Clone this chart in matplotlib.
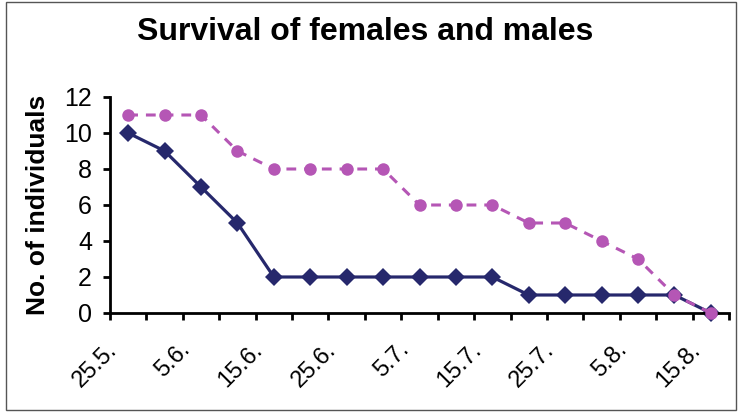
import matplotlib
matplotlib.use('Agg')
import matplotlib.pyplot as plt
import matplotlib.transforms as mtransforms
from matplotlib.patches import Rectangle

plt.rcParams['font.family'] = ['Liberation Sans', 'DejaVu Sans']

# survival counts, one value per census (every other census labelled)
females = [11, 11, 11, 9, 8, 8, 8, 8, 6, 6, 6, 5, 5, 4, 3, 1, 0]
males = [10, 9, 7, 5, 2, 2, 2, 2, 2, 2, 2, 1, 1, 1, 1, 1, 0]
date_labels = ['25.5.', '5.6.', '15.6.', '25.6.', '5.7.', '15.7.', '25.7.', '5.8.', '15.8.']
y_ticks = [0, 2, 4, 6, 8, 10, 12]

x = list(range(len(males)))

fig = plt.figure(figsize=(7.38, 4.12), dpi=100)
ax = fig.add_axes([110 / 738, 1 - 313 / 412, (729 - 110) / 738, (313 - 97) / 412])

ax.plot(x, females, color='#b556b5', linestyle=(0, (3.2, 2.6)), linewidth=2.2,
        marker='o', markersize=9, markeredgewidth=0, clip_on=False, zorder=3)
ax.plot(x, males, color='#26286c', linestyle='-', linewidth=2.3,
        marker='D', markersize=9.5, markeredgewidth=0, clip_on=False, zorder=2)

ax.set_xlim(-0.5, len(x) - 0.5)
ax.set_ylim(0, 12)
ax.set_yticks(y_ticks)

# tick marks sit between categories, labels on every other category
ax.set_xticks([i - 0.5 for i in range(len(x) + 1)], minor=True)
ax.set_xticks(x[::2])
ax.set_xticklabels(date_labels, rotation=45, ha='right', va='baseline',
                   rotation_mode='anchor', fontsize=17)
ax.tick_params(axis='x', which='major', length=5, width=0, pad=22)
ax.tick_params(axis='x', which='minor', length=5, width=2, direction='out')
ax.tick_params(axis='y', length=5, width=2, direction='out', pad=8, labelsize=18)

shift = mtransforms.ScaledTranslation(-10 / 100, 0, fig.dpi_scale_trans)
for lab in ax.get_xticklabels():
    lab.set_transform(lab.get_transform() + shift)

for side in ['top', 'right']:
    ax.spines[side].set_visible(False)
for side in ['left', 'bottom']:
    ax.spines[side].set_linewidth(2)
    ax.spines[side].set_color('black')

ax.set_ylabel('No. of individuals', fontsize=19, fontweight='bold', labelpad=10)
fig.text(365 / 738, 1 - 32 / 412, 'Survival of females and males', ha='center', va='center',
         fontsize=23, fontweight='bold')

fig.patches.append(Rectangle((6 / 738, 2 / 412), 730 / 738, 408 / 412, transform=fig.transFigure,
                             fill=False, edgecolor='#555555', linewidth=1))

fig.savefig('out.png', dpi=100)
